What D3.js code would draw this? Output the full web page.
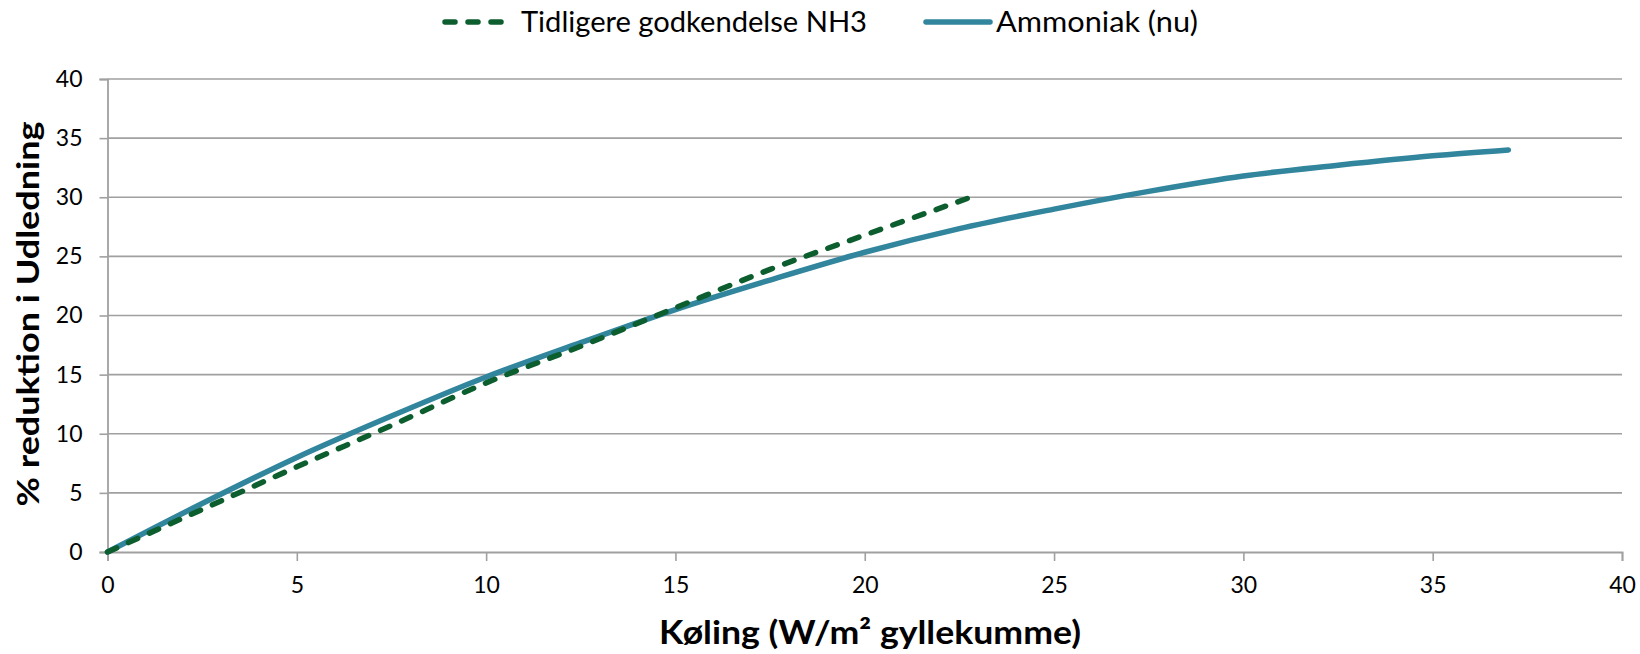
<!DOCTYPE html>
<html>
<head>
<meta charset="utf-8">
<script src="https://cdn.jsdelivr.net/npm/d3@7"></script>
<style>
  html, body { margin: 0; padding: 0; background: #fff; }
  svg { display: block; font-family: Lato, "Open Sans", sans-serif; }
</style>
</head>
<body>
<svg id="chart" width="1640" height="654"></svg>
<script>
// ---- data ----
const xTicks = [0, 5, 10, 15, 20, 25, 30, 35, 40];
const yTicks = [0, 5, 10, 15, 20, 25, 30, 35, 40];
const seriesNames = ["Tidligere godkendelse NH3", "Ammoniak (nu)"];
const tidligereX = [0, 2.5, 5, 7.5, 10, 12.5, 15, 17.5, 20, 22.8];
const tidligereY = [0, 3.6, 7.2, 10.7, 14.3, 17.4, 20.65, 23.9, 26.8, 30.0];
const ammoniakX = [0, 2.5, 5, 7.5, 10, 12.5, 15, 17.5, 20, 22.5, 25, 27.5, 30, 32.5, 35, 37];
const ammoniakY = [0, 4.1, 8.0, 11.5, 14.8, 17.7, 20.5, 23.0, 25.35, 27.35, 29.0, 30.5, 31.8, 32.7, 33.5, 34.0];
const xTitle = "Køling (W/m² gyllekumme)";
const yTitle = "% reduktion i Udledning";

// ---- layout ----
const W = 1640, H = 654;
const plot = { left: 107.5, right: 1622, top: 79, bottom: 552 };
const svg = d3.select("#chart");

const x = d3.scaleLinear().domain([0, 40]).range([plot.left, plot.right]);
const y = d3.scaleLinear().domain([0, 40]).range([plot.bottom, plot.top]);

const gridColor = "#a0a0a0";
const colDash = "#0c5e2f";
const colSolid = "#31859c";

// gridlines
svg.append("g")
  .selectAll("line")
  .data(yTicks.filter(d => d > 0))
  .join("line")
  .attr("x1", plot.left).attr("x2", plot.right)
  .attr("y1", d => y(d)).attr("y2", d => y(d))
  .attr("stroke", gridColor).attr("stroke-width", 1.6);

// x axis
const xAxis = d3.axisBottom(x).tickValues(xTicks).tickSize(9).tickPadding(16).tickFormat(d3.format("d"));
const gx = svg.append("g").attr("transform", `translate(0,${plot.bottom})`).call(xAxis);
gx.select(".domain").attr("stroke", gridColor).attr("stroke-width", 1.8);
gx.selectAll(".tick line").attr("stroke", gridColor).attr("stroke-width", 1.6);
gx.selectAll(".tick text").attr("font-size", 23).attr("fill", "#000")
  .attr("font-family", "Lato, sans-serif");

// y axis
const yAxis = d3.axisLeft(y).tickValues(yTicks).tickSize(8).tickPadding(17).tickFormat(d3.format("d"));
const gy = svg.append("g").attr("transform", `translate(${plot.left},0)`).call(yAxis);
gy.select(".domain").attr("stroke", gridColor).attr("stroke-width", 1.8);
gy.selectAll(".tick line").attr("stroke", gridColor).attr("stroke-width", 1.6);
gy.selectAll(".tick text").attr("font-size", 23).attr("fill", "#000")
  .attr("font-family", "Lato, sans-serif");

// lines
const line = d3.line().x(d => x(d[0])).y(d => y(d[1])).curve(d3.curveMonotoneX);
const tidligere = tidligereX.map((v, i) => [v, tidligereY[i]]);
const ammoniak = ammoniakX.map((v, i) => [v, ammoniakY[i]]);

svg.append("path").datum(ammoniak).attr("d", line)
  .attr("fill", "none").attr("stroke", colSolid).attr("stroke-width", 5.5)
  .attr("stroke-linecap", "round").attr("stroke-linejoin", "round");

svg.append("path").datum(tidligere).attr("d", line)
  .attr("fill", "none").attr("stroke", colDash).attr("stroke-width", 5.5)
  .attr("stroke-dasharray", "10,13").attr("stroke-linecap", "round");

// axis titles
svg.append("text")
  .attr("x", 870).attr("y", 644)
  .attr("text-anchor", "middle")
  .attr("font-size", 33).attr("font-weight", "bold").attr("fill", "#000")
  .attr("textLength", 422).attr("lengthAdjust", "spacingAndGlyphs")
  .text(xTitle);

svg.append("text")
  .attr("transform", "translate(39,314) rotate(-90)")
  .attr("text-anchor", "middle")
  .attr("font-size", 31).attr("font-weight", "bold").attr("fill", "#000")
  .attr("textLength", 385).attr("lengthAdjust", "spacingAndGlyphs")
  .text(yTitle);

// legend
const legend = [
  { name: seriesNames[0], x1: 445, x2: 503, tx: 521, tl: 346, color: colDash, dash: "10,13" },
  { name: seriesNames[1], x1: 926, x2: 990, tx: 996, tl: 202, color: colSolid, dash: null }
];
const lg = svg.append("g");
legend.forEach(l => {
  lg.append("line").attr("x1", l.x1).attr("x2", l.x2).attr("y1", 22).attr("y2", 22)
    .attr("stroke", l.color).attr("stroke-width", 5.5).attr("stroke-linecap", "round")
    .attr("stroke-dasharray", l.dash);
  lg.append("text").attr("x", l.tx).attr("y", 32)
    .attr("font-size", 29).attr("fill", "#000")
    .attr("textLength", l.tl).attr("lengthAdjust", "spacingAndGlyphs")
    .text(l.name);
});
</script>
</body>
</html>
